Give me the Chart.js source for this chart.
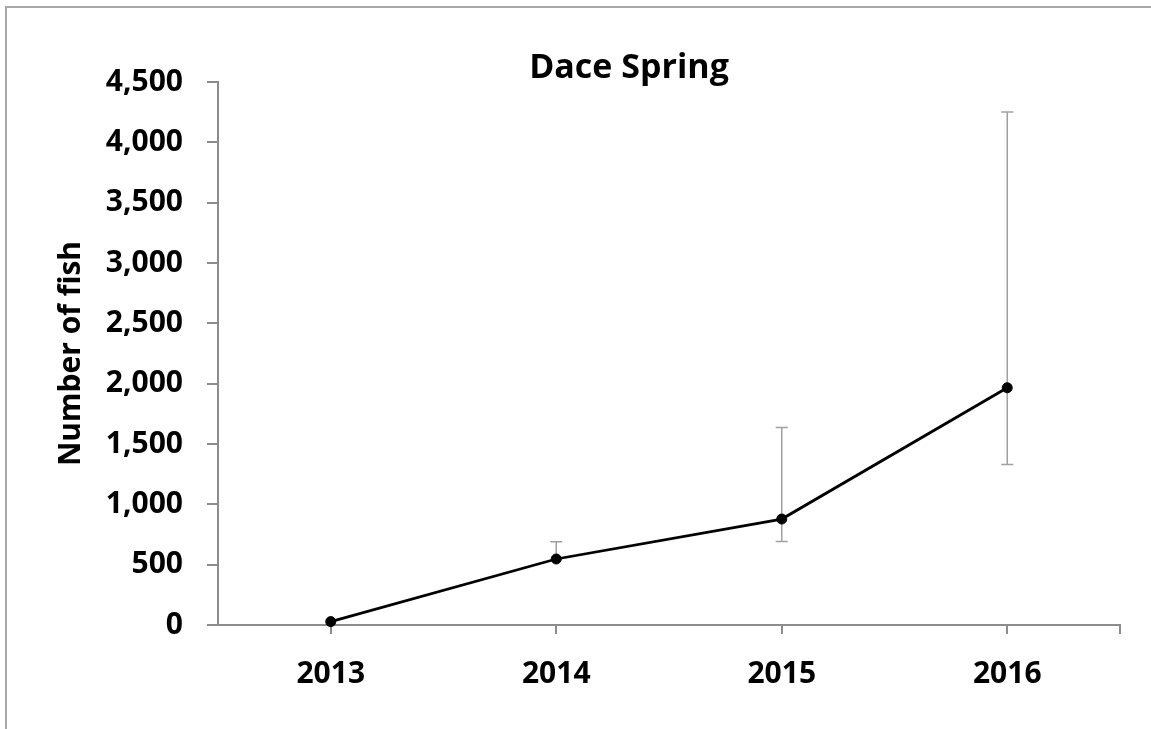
<!DOCTYPE html>
<html>
<head>
<meta charset="utf-8">
<title>Dace Spring</title>
<script src="https://cdn.jsdelivr.net/npm/chart.js@4.4.1/dist/chart.umd.min.js"></script>
<style>
  html, body { margin: 0; padding: 0; background: #fff; width: 1151px; height: 729px; overflow: hidden; }
  #moldura { position: absolute; left: 5px; top: 6px; width: 1300px; height: 900px;
             border-left: 2px solid #a8a8a8; border-top: 2px solid #a8a8a8; }
  #grafico { position: absolute; left: 0; top: 0; }
</style>
</head>
<body>
<div id="moldura"></div>
<canvas id="grafico" width="1151" height="729"></canvas>

<script>
const chartTitle = 'Dace Spring';
const yAxisTitle = 'Number of fish';

const years = ['2013', '2014', '2015', '2016'];
const fishCount = [28, 547, 878, 1966];
const errorLow = [28, 547, 693, 1331];
const errorHigh = [28, 690, 1637, 4251];
const yTickValues = [0, 500, 1000, 1500, 2000, 2500, 3000, 3500, 4000, 4500];

const FONTE = '"Open Sans", "Liberation Sans", sans-serif';
const CINZA_EIXO = '#8c8c8c';

// barras de erro (assimétricas) atrás dos pontos
const barrasErro = {
  id: 'barrasErro',
  beforeDatasetsDraw(chart) {
    const { ctx, scales: { x, y } } = chart;
    ctx.save();
    ctx.strokeStyle = '#a0a0a0';
    ctx.lineWidth = 1.5;
    years.forEach((ano, i) => {
      const px = x.getPixelForValue(i);
      const centro = y.getPixelForValue(fishCount[i]);
      [errorHigh[i], errorLow[i]].forEach(v => {
        const py = y.getPixelForValue(v);
        if (Math.abs(py - centro) < 1) return;
        ctx.beginPath();
        ctx.moveTo(px, centro);
        ctx.lineTo(px, py);
        ctx.moveTo(px - 6, py);
        ctx.lineTo(px + 6, py);
        ctx.stroke();
      });
    });
    ctx.restore();
  }
};

// título deslocado e marca final do eixo x
const extras = {
  id: 'extras',
  afterDraw(chart) {
    const { ctx, chartArea, scales: { x } } = chart;
    ctx.save();
    ctx.strokeStyle = CINZA_EIXO;
    ctx.lineWidth = 2;
    ctx.beginPath();
    ctx.moveTo(x.right, chartArea.bottom);
    ctx.lineTo(x.right, chartArea.bottom + 9);
    ctx.stroke();

    ctx.font = 'bold 34px ' + FONTE;
    ctx.fillStyle = '#000';
    ctx.textAlign = 'center';
    ctx.textBaseline = 'middle';
    ctx.fillText(chartTitle, chartArea.left + 411, chartArea.top - 14);
    ctx.restore();
  }
};

function desenhar() {
  const fonteEixo = { family: FONTE, size: 30, weight: 'bold' };

  new Chart(document.getElementById('grafico'), {
    type: 'line',
    data: {
      labels: years,
      datasets: [{
        data: fishCount,
        borderColor: '#000',
        borderWidth: 2.8,
        pointRadius: 5,
        pointBackgroundColor: '#000',
        pointBorderColor: '#000',
        pointBorderWidth: 1,
        tension: 0,
        clip: false
      }]
    },
    options: {
      responsive: false,
      animation: false,
      devicePixelRatio: 1,
      layout: { padding: { top: 82, right: 31, left: 0, bottom: 0 } },
      plugins: {
        legend: { display: false },
        tooltip: { enabled: false }
      },
      scales: {
        x: {
          offset: true,
          grid: { offset: false, drawOnChartArea: false, color: CINZA_EIXO, lineWidth: 2, tickLength: 9 },
          border: { color: CINZA_EIXO, width: 2 },
          ticks: { color: '#000', font: fonteEixo, padding: 22 },
          afterFit(s) { s.height = 104; }
        },
        y: {
          min: 0,
          max: 4500,
          afterBuildTicks(s) { s.ticks = yTickValues.map(v => ({ value: v })); },
          grid: { drawOnChartArea: false, color: CINZA_EIXO, lineWidth: 2, tickLength: 11 },
          border: { color: CINZA_EIXO, width: 2 },
          ticks: {
            color: '#000',
            font: fonteEixo,
            padding: 24,
            callback: v => v.toLocaleString('en-US')
          },
          title: {
            display: true,
            text: yAxisTitle,
            color: '#000',
            font: fonteEixo,
            padding: { top: 53, bottom: 0 }
          },
          afterFit(s) { s.width = 218; }
        }
      }
    },
    plugins: [barrasErro, extras]
  });
}

document.fonts.load('bold 30px "Open Sans"').then(desenhar, desenhar);
</script>
</body>
</html>
